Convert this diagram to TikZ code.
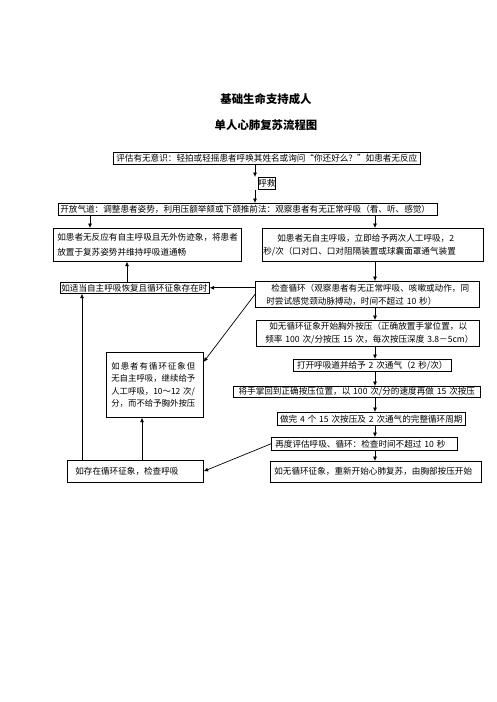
\documentclass[tikz,border=0pt]{standalone}
\usepackage{fontspec}
\setmainfont{Noto Sans CJK SC}
\usetikzlibrary{arrows.meta,calc}
\begin{document}
\begin{tikzpicture}[x=1pt,y=-1pt,
  bx/.style={draw, line width=0.6pt, anchor=north west, inner ysep=0pt, align=left, font=\fontsize{8.6}{13}\selectfont},
  arr/.style={line width=0.7pt, -{Latex[length=4.5pt,width=4pt]}},
  ttl/.style={font=\fontsize{11.4}{14}\selectfont\bfseries}]
\useasboundingbox[fill=white] (0,0) rectangle (496,702);
\node[ttl] (t1) at (266,99) {基础生命支持成人};
\node[ttl] (t2) at (266,125) {单人心肺复苏流程图};
\node[bx, inner xsep=1pt, text width=305pt, align=center, minimum height=12pt] (b1) at (113,152) {\mbox{评估有无意识：轻拍或轻摇患者呼唤其姓名或询问“你还好么？”如患者无反应}};
\node[bx, inner xsep=0pt, text width=17pt, align=center, minimum height=12pt] (hj) at (258,177) {呼救};
\node[bx, inner xsep=2pt, text width=375pt, minimum height=12pt] (b3) at (58,203) {\mbox{开放气道：调整患者姿势，利用压额举颏或下颌推前法：观察患者有无正常呼吸（看、听、感觉）}};
\node[bx, inner xsep=4pt, text width=180pt, minimum height=33pt, font=\fontsize{8.6}{15}\selectfont] (b4) at (53,228) {\mbox{如患者无反应有自主呼吸且无外伤迹象，将患者}\\\mbox{放置于复苏姿势并维持呼吸道通畅}};
\node[bx, inner xsep=1pt, text width=219pt, minimum height=33pt] (b5) at (262,228) {\hspace*{14pt}\mbox{如患者无自主呼吸，立即给予两次人工呼吸，2}\\\mbox{秒/次（口对口、口对阻隔装置或球囊面罩通气装置}};
\node[bx, inner xsep=1pt, text width=147pt, minimum height=11pt] (b6) at (60,282) {\mbox{如适当自主呼吸恢复且循环征象存在时}};
\node[bx, inner xsep=11pt, text width=202pt, minimum height=26pt] (b7) at (255,281) {\hspace*{5pt}\mbox{检查循环（观察患者有无正常呼吸、咳嗽或动作，同}\\\mbox{时尝试感觉颈动脉搏动，时间不超过 10 秒）}};
\node[bx, inner xsep=9pt, text width=205pt, minimum height=26pt] (b9) at (256,320) {\hspace*{4pt}\mbox{如无循环征象开始胸外按压（正确放置手掌位置，以}\\\mbox{频率 100 次/分按压 15 次，每次按压深度 3.8－5cm）}};
\node[bx, inner xsep=5pt, text width=87pt, minimum height=65pt, font=\fontsize{8.4}{12.5}\selectfont] (b8) at (106,352) {\makebox[84pt][s]{如\hfil 患\hfil 者\hfil 有\hfil 循\hfil 环\hfil 征\hfil 象\hfil 但}\\\mbox{无自主呼吸，继续给予}\\\mbox{人工呼吸，10～12 次/}\\\mbox{分，而不给予胸外按压}};
\node[bx, inner xsep=1pt, text width=156pt, align=center, minimum height=12pt] (b11) at (293,359) {\mbox{打开呼吸道并给予 2 次通气（2 秒/次）}};
\node[bx, inner xsep=1pt, text width=245pt, align=center, minimum height=11pt] (b12) at (233,386) {\mbox{将手掌回到正确按压位置，以 100 次/分的速度再做 15 次按压}};
\node[bx, inner xsep=1pt, text width=186pt, align=center, minimum height=13pt] (b13) at (277,412) {\mbox{做完 4 个 15 次按压及 2 次通气的完整循环周期}};
\node[bx, inner xsep=4pt, text width=178pt, minimum height=13pt] (b14) at (271,437) {\mbox{再度评估呼吸、循环：检查时间不超过 10 秒}};
\node[bx, inner xsep=4pt, text width=203pt, minimum height=21pt] (b15) at (270,461) {\mbox{如无循环征象，重新开始心肺复苏，由胸部按压开始}};
\node[bx, inner xsep=8pt, text width=120pt, minimum height=22pt] (b10) at (67,460) {\mbox{如存在循环征象，检查呼吸}};
\coordinate (cA) at (255,0);
\coordinate (cR) at (375,0);
\coordinate (cL) at (90,0);
\coordinate (cU) at (127,0);
\coordinate (cF) at (82,0);
\coordinate (cG) at (142,0);
\draw[arr] (b1.south -| cA) -- (hj.north -| cA);
\draw[arr] (hj.south -| cA) -- (b3.north -| cA);
\draw[arr] (b3.south -| cL) -- (b4.north -| cL);
\draw[arr] (b3.south -| cR) -- (b5.north -| cR);
\draw[arr] (b6.north -| cU) -- (b4.south -| cU);
\draw[arr] (b5.south -| cR) -- (b7.north -| cR);
\draw[arr] (b7.west |- b6.east) -- (b6.east);
\draw[arr] (b7.west) -- ([yshift=-10pt]b8.north east);
\draw[arr] (b7.south -| cR) -- (b9.north -| cR);
\draw[arr] (b9.south -| cR) -- (b11.north -| cR);
\draw[arr] (b11.south -| cR) -- (b12.north -| cR);
\draw[arr] (b12.south -| cR) -- (b13.north -| cR);
\draw[arr] (b13.south -| cR) -- (b14.north -| cR);
\draw[arr] (b14.south -| cR) -- (b15.north -| cR);
\draw[arr] (b14.west) -- (b10.east);
\draw[arr] (b10.north -| cF) -- (b6.south -| cF);
\draw[arr] (b10.north -| cG) -- (b8.south -| cG);
\end{tikzpicture}
\end{document}
